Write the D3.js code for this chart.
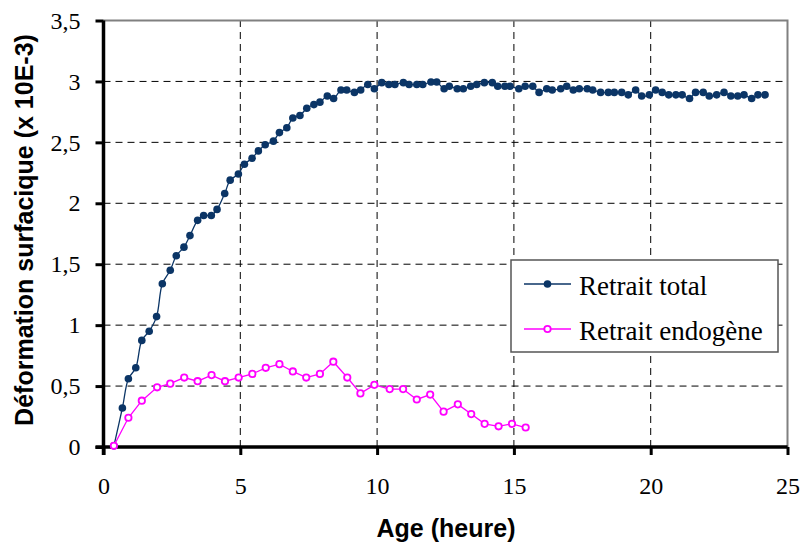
<!DOCTYPE html>
<html>
<head>
<meta charset="utf-8">
<script src="https://cdn.jsdelivr.net/npm/d3@7"></script>
<style>
  html, body { margin: 0; padding: 0; background: #fff; }
  svg { display: block; }
  .serif { font-family: "Liberation Serif", "Times New Roman", serif; }
</style>
</head>
<body>
<svg id="chart" width="801" height="543"></svg>
<script>
// Age (h) and surface strain (x 10E-3) — total shrinkage
const totalAge = [0.38, 0.69, 0.91, 1.18, 1.40, 1.67, 1.94, 2.15, 2.44, 2.66, 2.94, 3.16, 3.44, 3.66, 3.94, 4.15,
  4.43, 4.63, 4.93, 5.15, 5.43, 5.66, 5.91, 6.21, 6.43, 6.70, 6.92, 7.18, 7.43, 7.69, 7.91, 8.18, 8.41, 8.68,
  8.89, 9.17, 9.40, 9.66, 9.90, 10.17, 10.43, 10.65, 10.96, 11.17, 11.45, 11.67, 11.97, 12.18, 12.45, 12.64,
  12.93, 13.15, 13.42, 13.64, 13.92, 14.21, 14.41, 14.67, 14.86, 15.18, 15.41, 15.69, 15.92, 16.20, 16.40,
  16.71, 16.93, 17.17, 17.39, 17.68, 17.88, 18.17, 18.45, 18.67, 18.94, 19.18, 19.45, 19.67, 19.95, 20.18,
  20.42, 20.66, 20.92, 21.15, 21.42, 21.64, 21.92, 22.14, 22.41, 22.68, 22.93, 23.18, 23.41, 23.69, 23.92, 24.18];
const totalStrain = [0.01, 0.32, 0.56, 0.65, 0.875, 0.95, 1.07, 1.34, 1.45, 1.57, 1.64, 1.735, 1.86, 1.90, 1.90, 1.95,
  2.08, 2.19, 2.24, 2.32, 2.37, 2.43, 2.48, 2.51, 2.58, 2.62, 2.70, 2.72, 2.78, 2.81, 2.83, 2.88, 2.86, 2.93,
  2.93, 2.91, 2.93, 2.975, 2.94, 2.99, 2.975, 2.975, 2.99, 2.975, 2.975, 2.975, 2.995, 2.995, 2.94, 2.96,
  2.94, 2.94, 2.96, 2.975, 2.99, 2.99, 2.96, 2.96, 2.96, 2.94, 2.96, 2.96, 2.91, 2.94, 2.93,
  2.94, 2.96, 2.93, 2.94, 2.94, 2.93, 2.91, 2.91, 2.91, 2.91, 2.89, 2.93, 2.88, 2.89, 2.93,
  2.91, 2.89, 2.89, 2.89, 2.86, 2.91, 2.91, 2.88, 2.89, 2.91, 2.88, 2.88, 2.89, 2.86, 2.89, 2.89];

// Autogenous shrinkage
const endoAge = [0.38, 0.91, 1.40, 1.96, 2.44, 2.95, 3.44, 3.95, 4.44, 4.94, 5.44, 5.93, 6.43, 6.92, 7.41, 7.91,
  8.40, 8.91, 9.39, 9.90, 10.46, 10.95, 11.45, 11.94, 12.43, 12.95, 13.44, 13.93, 14.44, 14.93, 15.43];
const endoStrain = [0.01, 0.24, 0.38, 0.49, 0.52, 0.57, 0.54, 0.59, 0.54, 0.57, 0.60, 0.65, 0.68, 0.62, 0.57, 0.60,
  0.70, 0.57, 0.44, 0.51, 0.475, 0.475, 0.39, 0.43, 0.29, 0.35, 0.27, 0.19, 0.17, 0.19, 0.16];

const xTicks = [0, 5, 10, 15, 20, 25];
const yTicks = [0, 0.5, 1, 1.5, 2, 2.5, 3, 3.5];
const seriesNames = ["Retrait total", "Retrait endogène"];

const navy = "#0B3566";
const magenta = "#FF00FF";
const sans = "Liberation Sans, Arial, sans-serif";

const svg = d3.select("#chart");
const x = d3.scaleLinear().domain([0, 25]).range([103.5, 787.5]);
const y = d3.scaleLinear().domain([0, 3.5]).range([447, 20.5]);

const fr = d3.formatLocale({ decimal: ",", thousands: " ", grouping: [3], currency: ["", " €"] });
const fmt = v => fr.format("~g")(v);

// dashed grid
const grid = svg.append("g").attr("stroke", "#000").attr("stroke-width", 1).attr("stroke-dasharray", "7,5");
grid.selectAll("line.h").data(yTicks.filter(v => v > 0 && v < 3.5)).join("line")
  .attr("x1", x(0)).attr("x2", x(25)).attr("y1", d => y(d)).attr("y2", d => y(d));
grid.selectAll("line.v").data(xTicks.filter(v => v > 0 && v < 25)).join("line")
  .attr("y1", y(0)).attr("y2", y(3.5)).attr("x1", d => x(d)).attr("x2", d => x(d));

// plot frame (top and right)
svg.append("path")
  .attr("d", `M${x(0)},${y(3.5)}H${x(25)}V${y(0)}`)
  .attr("fill", "none").attr("stroke", "#808080").attr("stroke-width", 2);

// axes
const xAxis = svg.append("g").attr("transform", `translate(0,${y(0)})`)
  .call(d3.axisBottom(x).tickValues(xTicks).tickFormat(fmt).tickSize(8).tickSizeOuter(0).tickPadding(22));
const yAxis = svg.append("g").attr("transform", `translate(${x(0)},0)`)
  .call(d3.axisLeft(y).tickValues(yTicks).tickFormat(fmt).tickSize(8).tickSizeOuter(0).tickPadding(15));
[xAxis, yAxis].forEach(a => {
  a.attr("font-size", 24).attr("font-family", null).attr("class", "serif");
  a.selectAll(".tick text").attr("fill", "#000");
  a.select(".domain").attr("stroke", "#000").attr("stroke-width", 3.5);
  a.selectAll(".tick line").attr("stroke", "#000").attr("stroke-width", 3);
});
xAxis.select(".domain").attr("d", `M${x(0) - 8},0H${x(25)}`);
yAxis.select(".domain").attr("d", `M0,${y(0) + 8}V${y(3.5)}`);

// series
const totalPts = totalAge.map((a, i) => [a, totalStrain[i]]);
const endoPts = endoAge.map((a, i) => [a, endoStrain[i]]);

svg.append("path").datum(totalPts)
  .attr("fill", "none").attr("stroke", navy).attr("stroke-width", 1.3)
  .attr("d", d3.line().x(d => x(d[0])).y(d => y(d[1])).curve(d3.curveCatmullRom.alpha(0.5)));
svg.append("path").datum(endoPts)
  .attr("fill", "none").attr("stroke", magenta).attr("stroke-width", 1.3)
  .attr("d", d3.line().x(d => x(d[0])).y(d => y(d[1])));

svg.append("g").selectAll("circle").data(totalPts).join("circle")
  .attr("cx", d => x(d[0])).attr("cy", d => y(d[1])).attr("r", 3.8).attr("fill", navy);
svg.append("g").selectAll("circle").data(endoPts).join("circle")
  .attr("cx", d => x(d[0])).attr("cy", d => y(d[1])).attr("r", 3.2)
  .attr("fill", "#fff").attr("stroke", magenta).attr("stroke-width", 1.8);

// axis titles
svg.append("text")
  .attr("x", 446).attr("y", 537).attr("text-anchor", "middle")
  .attr("font-family", sans).attr("font-weight", "bold").attr("font-size", 25)
  .text("Age (heure)");
svg.append("text")
  .attr("transform", "translate(24,230) rotate(-90)").attr("text-anchor", "middle").attr("dy", "0.35em")
  .attr("font-family", sans).attr("font-weight", "bold").attr("font-size", 25)
  .text("Déformation surfacique (x 10E-3)");

// legend
const lg = svg.append("g");
lg.append("rect").attr("x", 511).attr("y", 260).attr("width", 267).attr("height", 92)
  .attr("fill", "#fff").attr("stroke", "#555").attr("stroke-width", 1.5);
const rows = [
  { name: seriesNames[0], color: navy, open: false, cy: 284 },
  { name: seriesNames[1], color: magenta, open: true, cy: 329 }
];
rows.forEach(r => {
  lg.append("line").attr("x1", 524).attr("x2", 571).attr("y1", r.cy).attr("y2", r.cy)
    .attr("stroke", r.color).attr("stroke-width", 1.3);
  const c = lg.append("circle").attr("cx", 547.5).attr("cy", r.cy);
  if (r.open) c.attr("r", 3.2).attr("fill", "#fff").attr("stroke", r.color).attr("stroke-width", 1.8);
  else c.attr("r", 3.8).attr("fill", r.color);
  lg.append("text").attr("x", 579).attr("y", r.cy + 11).attr("class", "serif")
    .attr("font-size", 27)
    .text(r.name);
});
</script>
</body>
</html>
